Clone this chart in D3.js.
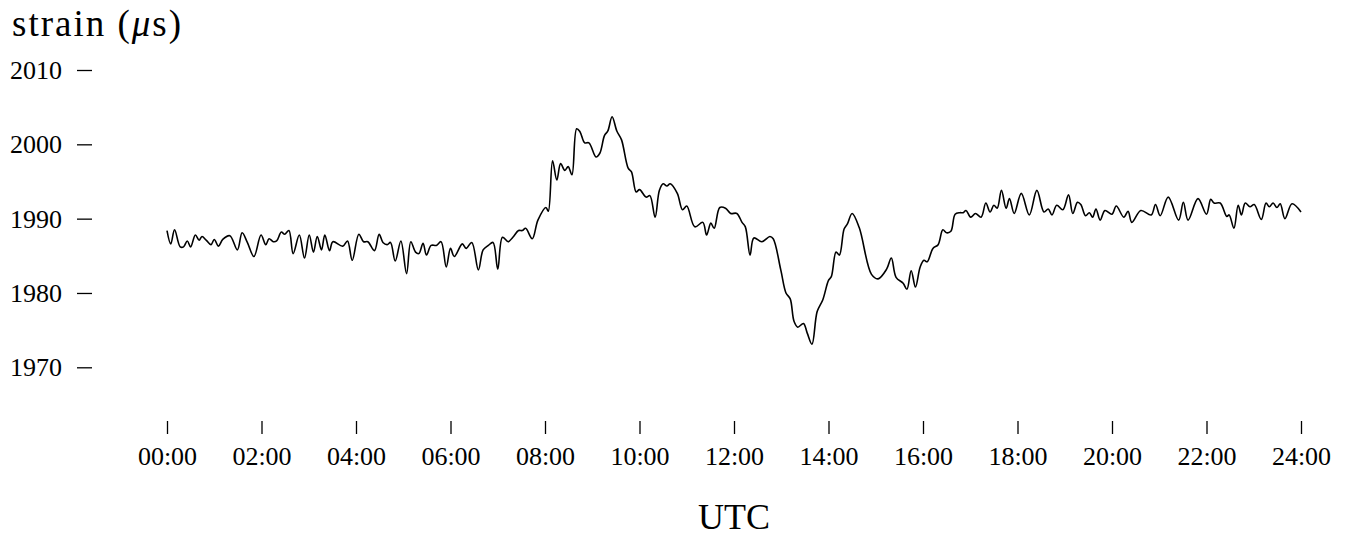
<!DOCTYPE html>
<html lang="en">
<head>
<meta http-equiv="content-type" content="text/html; charset=UTF-8">
    <script src="https://d3js.org/d3.v7.min.js"></script>
    <style>
        html, body { margin: 0; padding: 0; background: #fff; }
        #plot { position: absolute; width: 1349px; height: 538px; }
        text { font-family: "Liberation Serif", "Times New Roman", serif; fill: #000; }
    </style>
</head>
<body>
    <div id="plot"></div>
    <script>
        // hours after midnight (UTC)
        const hours = [
            0.00,0.08,0.16,0.28,0.35,0.43,0.50,0.60,0.68,0.74,0.83,0.93,1.00,1.09,1.18,1.33,1.49,1.59,1.70,1.84,
            1.99,2.09,2.16,2.25,2.32,2.42,2.49,2.58,2.67,2.80,2.91,3.01,3.10,3.18,3.27,3.34,3.44,3.51,3.72,3.82,3.92,
            4.06,4.16,4.25,4.39,4.49,4.57,4.66,4.73,4.83,4.95,5.07,5.16,5.26,5.33,5.42,5.49,5.59,5.70,5.80,5.91,
            6.00,6.08,6.25,6.33,6.45,6.59,6.69,6.80,6.90,7.00,7.10,7.22,7.32,7.44,7.52,7.59,7.73,7.85,8.02,8.07,
            8.16,8.25,8.33,8.42,8.49,8.57,8.67,8.74,8.84,8.93,9.08,9.16,9.26,9.33,9.42,9.52,9.62,9.76,9.83,9.93,
            10.00,10.14,10.22,10.33,10.42,10.50,10.58,10.65,10.80,10.91,11.00,11.17,11.34,11.42,11.51,11.58,11.70,11.82,11.93,12.06,
            12.17,12.24,12.34,12.42,12.59,12.76,12.83,12.99,13.10,13.19,13.27,13.35,13.47,13.55,13.65,13.76,13.88,14.00,14.06,14.16,
            14.23,14.33,14.40,14.50,14.65,14.91,15.05,15.23,15.33,15.43,15.58,15.66,15.75,15.84,15.94,
            16.02,16.09,16.21,16.32,16.42,16.50,16.59,16.68,16.78,16.85,16.91,17.01,17.11,17.23,17.33,17.42,17.50,17.57,17.66,17.76,
            17.83,17.93,18.08,18.25,18.41,18.56,18.65,18.73,18.83,18.96,19.08,19.17,19.27,19.34,19.44,19.52,19.59,19.66,19.75,19.85,20.00,
            20.09,20.25,20.34,20.42,20.61,20.83,20.92,21.02,21.19,21.41,21.51,21.61,21.82,22.00,22.09,22.16,22.29,22.43,22.48,22.58,
            22.67,22.74,22.82,22.92,23.01,23.16,23.26,23.33,23.41,23.49,23.56,23.66,23.81,24.00
        ];

        // strain in microstrain
        const strain = [
            1988.4,1986.6,1988.5,1986.2,1986.2,1987.0,1986.2,1987.8,1987.1,1987.6,1987.1,1986.5,1987.2,1986.3,1987.2,1987.7,1985.8,1988.1,1986.8,1984.9,
            1987.8,1986.5,1987.3,1986.9,1987.0,1988.2,1987.9,1988.4,1985.3,1987.8,1984.7,1987.8,1985.5,1987.6,1985.8,1987.8,1985.7,1986.9,1986.3,1987.0,1984.4,
            1987.9,1986.9,1986.9,1985.7,1987.9,1986.8,1986.5,1986.8,1984.3,1987.0,1982.6,1986.9,1985.5,1985.3,1986.7,1985.1,1986.4,1986.4,1986.9,1983.5,
            1986.0,1984.9,1986.6,1986.0,1986.8,1983.1,1985.8,1986.4,1986.8,1983.2,1987.5,1986.9,1987.5,1988.4,1988.4,1988.7,1987.3,1989.8,1991.5,1991.0,
            1997.8,1995.2,1997.4,1996.5,1997.0,1995.9,2002.1,2001.7,2000.2,2000.2,1998.3,1998.8,2001.2,2001.8,2003.7,2001.8,2000.6,1996.8,1996.3,1993.6,
            1993.9,1992.9,1993.1,1990.2,1993.8,1994.7,1994.4,1994.7,1993.4,1991.2,1991.7,1988.9,1989.5,1987.8,1989.4,1988.7,1991.5,1991.4,1990.7,1990.7,
            1989.5,1988.9,1985.1,1987.4,1986.9,1987.6,1987.3,1983.1,1980.0,1979.2,1976.2,1975.4,1975.9,1974.6,1973.1,1977.5,1979.1,1981.7,1982.2,1985.5,
            1985.1,1988.6,1989.3,1990.7,1988.8,1982.5,1981.9,1983.2,1984.7,1982.1,1981.3,1980.5,1983.0,1980.8,1983.5,
            1984.4,1984.2,1986.0,1986.5,1988.5,1988.1,1988.3,1990.6,1990.8,1990.8,1991.1,1990.2,1990.7,1990.2,1992.1,1990.9,1991.8,1991.4,1993.8,1991.4,
            1992.7,1990.7,1993.4,1990.5,1993.8,1990.9,1991.3,1990.5,1991.8,1991.2,1993.2,1990.7,1992.2,1991.9,1990.4,1990.8,1990.2,1991.3,1989.8,1991.1,1990.6,
            1991.7,1990.2,1991.0,1989.5,1991.1,1990.5,1991.9,1990.4,1992.9,1989.8,1992.2,1989.8,1992.7,1990.6,1992.6,1992.1,1992.1,1990.3,1990.5,1988.7,
            1991.8,1990.5,1992.1,1991.6,1991.9,1989.9,1992.1,1991.6,1992.1,1991.5,1992.0,1990.0,1992.0,1990.9
        ];

        const yTicks = [1970, 1980, 1990, 2000, 2010];
        const xTicks = [0, 2, 4, 6, 8, 10, 12, 14, 16, 18, 20, 22, 24];
        const xTickLabels = ["00:00","02:00","04:00","06:00","08:00","10:00","12:00","14:00","16:00","18:00","20:00","22:00","24:00"];

        function drawChart() {
            const width = 1349;
            const height = 538;

            const svg = d3.select("#plot")
              .append("svg")
                .attr("width", width)
                .attr("height", height);

            // scales
            const x = d3.scaleLinear()
                .domain([0, 24])
                .range([167, 1301]);

            const y = d3.scaleLinear()
                .domain([1970, 2010])
                .range([367.3, 70]);

            // y axis: labels with a short dash to their right
            const yAxis = d3.axisRight(y)
                .tickValues(yTicks)
                .tickSize(15)
                .tickFormat(d3.format("d"));

            const yAxisGroup = svg.append("g")
                .attr("transform", "translate(77, 0)")
                .call(yAxis)
                .call(g => g.select(".domain").remove());

            yAxisGroup.selectAll(".tick line")
                .attr("stroke", "#000")
                .attr("stroke-width", 1.3);

            yAxisGroup.selectAll(".tick text")
                .attr("x", -15)
                .attr("dy", "0.33em")
                .attr("text-anchor", "end")
                .style("font-family", "'Liberation Serif', serif")
                .style("font-size", "26px");

            // x axis: vertical tick marks above the labels
            const xAxis = d3.axisBottom(x)
                .tickValues(xTicks)
                .tickSize(13)
                .tickFormat((d, i) => xTickLabels[i]);

            const xAxisGroup = svg.append("g")
                .attr("transform", "translate(0, 421)")
                .call(xAxis)
                .call(g => g.select(".domain").remove());

            xAxisGroup.selectAll(".tick line")
                .attr("stroke", "#000")
                .attr("stroke-width", 1.3);

            xAxisGroup.selectAll(".tick text")
                .attr("y", 44)
                .attr("dy", 0)
                .style("font-family", "'Liberation Serif', serif")
                .style("font-size", "26px");

            // the strain line
            const points = hours.map((h, i) => [h, strain[i]]);
            const line = d3.line()
                .x(d => x(d[0]))
                .y(d => y(d[1]))
                .curve(d3.curveCatmullRom.alpha(0.5));

            svg.append("path")
                .datum(points)
                .attr("fill", "none")
                .attr("stroke", "#000")
                .attr("stroke-width", 1.6)
                .attr("stroke-linejoin", "round")
                .attr("d", line);

            // axis titles
            const title = svg.append("text")
                .attr("x", 12)
                .attr("y", 36)
                .style("font-size", "37px")
                .style("letter-spacing", "2px");
            title.append("tspan").text("strain (");
            title.append("tspan").style("font-style", "italic").text("\u03bc");
            title.append("tspan").text("s)");

            svg.append("text")
                .attr("x", 734)
                .attr("y", 529)
                .attr("text-anchor", "middle")
                .style("font-size", "36px")
                .text("UTC");
        }

        function init() {
            drawChart();
        }

        window.onload = init;
    </script>
</body>
</html>
